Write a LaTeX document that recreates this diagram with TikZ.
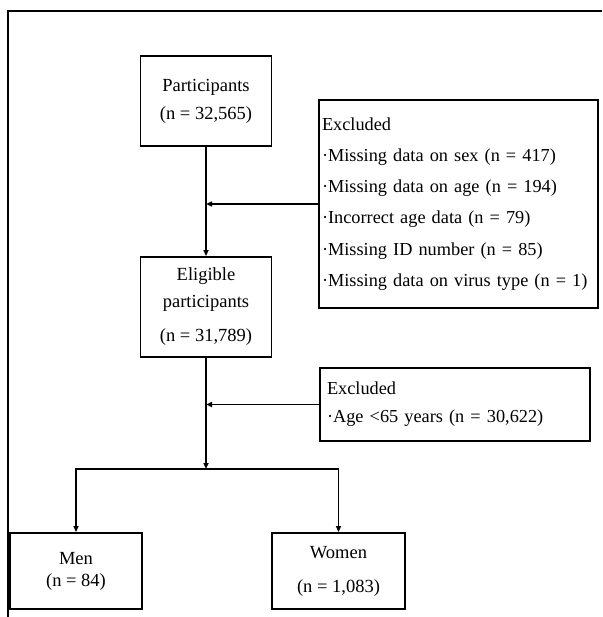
\documentclass[tikz,border=0pt]{standalone}
\usepackage{fontspec}
\setmainfont{Liberation Serif}
\usetikzlibrary{arrows.meta, positioning, calc}

\begin{document}
\begin{tikzpicture}[
    x=1pt, y=-1pt,
    box/.style={rectangle, draw=black, line width=1.8pt, inner sep=0pt, align=center, font=\fontsize{18.5}{28}\selectfont},
    exclbox/.style={box, align=left, inner xsep=3pt},
    arrow/.style={-{Triangle[length=6pt, width=5pt]}, line width=1.8pt, draw=black}
]
\useasboundingbox (0,0) rectangle (602,617);

% Frame
\draw[line width=1.2pt] (8,617) -- (8,11) -- (602,11);

% Main column
\node[box, minimum width=131pt, minimum height=90pt] (part) at (206,101) {Participants\\(n = 32,565)};
\node[box, minimum width=131pt, minimum height=100pt, font=\fontsize{18.5}{27}\selectfont] (elig) at (206,307) {Eligible\\participants\\[7pt](n = 31,789)};

% Exclusions
\node[exclbox, text width=273pt, minimum height=208pt, font=\fontsize{18.3}{31.2}\selectfont] (excl1) at (458.5,204) {Excluded\\
·Missing data on sex (n = 417)\\
·Missing data on age (n = 194)\\
·Incorrect age data (n = 79)\\
·Missing ID number (n = 85)\\
·Missing data on virus type (n = 1)};
\node[exclbox, inner xsep=7pt, text width=256pt, minimum height=73pt, font=\fontsize{18.3}{28}\selectfont] (excl2) at (455,404.5) {Excluded\\·Age <65 years (n = 30,622)};

% Groups
\node[box, minimum width=132pt, minimum height=76pt, font=\fontsize{18.5}{22}\selectfont] (men) at (76,571) {Men\\(n = 84)};
\node[box, minimum width=133pt, minimum height=76pt, font=\fontsize{18.5}{34}\selectfont] (women) at (338.5,571) {Women\\(n = 1,083)};

\coordinate (split) at (206,469);

% Connectors
\draw[arrow] (part) -- (elig);
\draw[arrow] (excl1.west) -- (excl1.west -| part.south);
\draw[arrow] (excl2.west) -- (excl2.west -| elig.south);
\draw[arrow] (elig) -- (split);
\draw[arrow] (split) -| (men.north);
\draw[arrow] (split) -| (women.north);

\end{tikzpicture}
\end{document}
